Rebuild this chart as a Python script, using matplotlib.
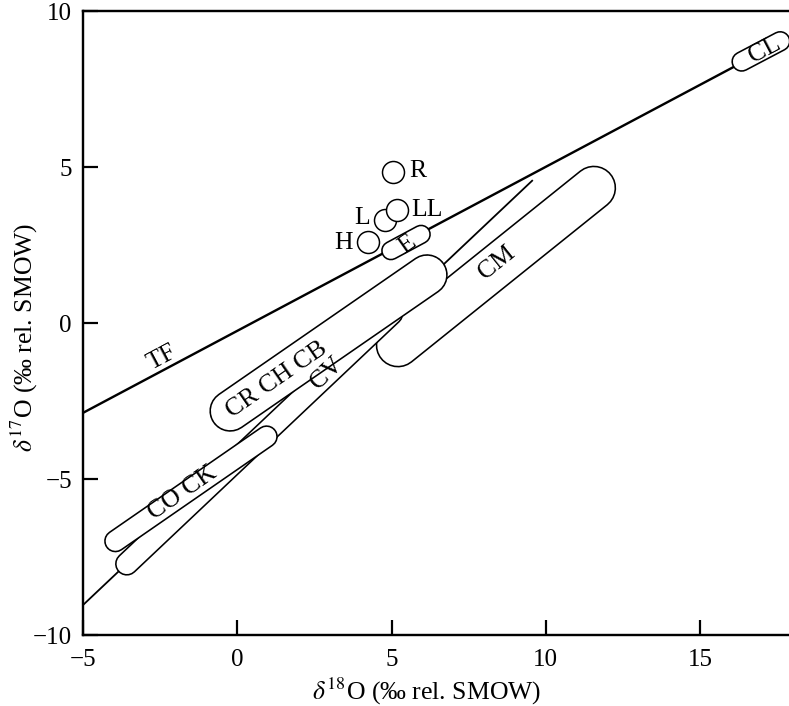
import math
import matplotlib
matplotlib.use("Agg")
import matplotlib.pyplot as plt

plt.rcParams['font.family'] = ['Liberation Serif', 'DejaVu Serif']
plt.rcParams['mathtext.fontset'] = 'stix'
plt.rcParams['axes.unicode_minus'] = True

# ---------------- data ----------------
x_ticks = [-5, 0, 5, 10, 15]
y_ticks = [-10, -5, 0, 5, 10]

# terrestrial fractionation line (TF) and CCAM line
tf_x = [-5.0, 17.6]
tf_y = [-2.88, 9.0]
ccam_x = [-5.0, 9.58]
ccam_y = [-9.04, 4.58]

# capsule-shaped fields: name, start (x,y), end (x,y), label position
field_names = ["CM", "CV", "CO CK", "CR CH CB", "E", "CL"]
field_x0 = [5.21, -3.58, -3.95, -0.23, 4.98, 16.35]
field_y0 = [-0.71, -7.72, -6.99, -2.82, 2.32, 8.38]
field_x1 = [11.56, 5.00, 0.95, 6.15, 5.96, 17.60]
field_y1 = [4.33, 0.30, -3.64, 1.54, 2.84, 9.03]
field_label_x = [8.42, 2.91, -1.76, 1.29, 5.50, 17.11]
field_label_y = [1.92, -1.60, -5.45, -1.83, 2.50, 8.75]

# ordinary chondrite / R groups (circles)
group_names = ["R", "H", "L", "LL"]
group_x = [5.05, 4.24, 4.79, 5.18]
group_y = [4.84, 2.60, 3.30, 3.62]
group_label_x = [5.86, 3.46, 4.04, 6.15]
group_label_y = [4.87, 2.56, 3.37, 3.62]

tf_label = "TF"
tf_label_x, tf_label_y = -2.44, -1.12

# ---------------- styling ----------------
W, H, DPI = 789, 706, 100
field_width_px = [43, 22, 21, 40, 18, 19]
FS_LABEL = 18.5
FS_TICK = 18

fig = plt.figure(figsize=(W / DPI, H / DPI), dpi=DPI)
ax = fig.add_axes([83 / W, 71 / H, 706 / W, 624 / H])
ax.set_xlim(-5, -5 + 706 / 30.85)
ax.set_ylim(-10, 10)

k = 72.0 / DPI  # px -> pt


def px_angle(x0, y0, x1, y1):
    a = ax.transData.transform([(x0, y0), (x1, y1)])
    d = a[1] - a[0]
    return math.degrees(math.atan2(d[1], d[0]))


# lines
ax.plot(tf_x, tf_y, color='black', lw=2.4 * k, solid_capstyle='butt', zorder=1)
ax.plot(ccam_x, ccam_y, color='black', lw=1.8 * k, solid_capstyle='butt', zorder=1)

# capsules
edge = 1.6
for i, name in enumerate(field_names):
    z = 3 + 2 * i
    xs = [field_x0[i], field_x1[i]]
    ys = [field_y0[i], field_y1[i]]
    w = field_width_px[i]
    ax.plot(xs, ys, color='black', lw=(w + edge) * k, solid_capstyle='round', zorder=z)
    ax.plot(xs, ys, color='white', lw=(w - edge) * k, solid_capstyle='round', zorder=z + 0.5)

for i, name in enumerate(field_names):
    ang = px_angle(field_x0[i], field_y0[i], field_x1[i], field_y1[i])
    if name == "E":
        ang = 35
    if name == "CV":
        ang = px_angle(ccam_x[0], ccam_y[0], ccam_x[1], ccam_y[1])
    ax.text(field_label_x[i], field_label_y[i], name, rotation=ang, rotation_mode='anchor',
            ha='center', va='center', fontsize=FS_LABEL, zorder=30)

# TF label
ax.text(tf_label_x, tf_label_y, tf_label, rotation=px_angle(tf_x[0], tf_y[0], tf_x[1], tf_y[1]),
        rotation_mode='anchor', ha='center', va='center', fontsize=FS_LABEL, zorder=30)

# circles
ax.plot(group_x, group_y, 'o', ms=22 * k, mfc='white', mec='black', mew=1.5 * k, zorder=25,
        linestyle='none')
for i, name in enumerate(group_names):
    ax.text(group_label_x[i], group_label_y[i], name, ha='center', va='center',
            fontsize=FS_LABEL, zorder=30)

# axes styling
ax.spines['right'].set_visible(False)
for s in ['top', 'left', 'bottom']:
    ax.spines[s].set_linewidth(2.4 * k)
ax.set_xticks(x_ticks)
ax.set_yticks(y_ticks)
ax.set_xticklabels([f"\u2212{abs(v)}" if v < 0 else str(v) for v in x_ticks])
ax.set_yticklabels([f"\u2212{abs(v)}" if v < 0 else str(v) for v in y_ticks])
ax.tick_params(direction='in', length=15 * k, width=2.2 * k, labelsize=FS_TICK, top=False, right=False)
ax.tick_params(axis='x', pad=10)
ax.tick_params(axis='y', pad=8)

ax.set_xlabel(r'$\delta^{18}$O (‰ rel. SMOW)', fontsize=FS_LABEL)
ax.set_ylabel(r'$\delta^{17}$O (‰ rel. SMOW)', fontsize=FS_LABEL)
ax.xaxis.set_label_coords((427 - 83) / 706, -(676 - 635) / 624)
ax.xaxis.label.set_va('top')
ax.yaxis.set_label_coords(-(83 - 40) / 706, (635 - 337) / 624)

fig.savefig('out.png', dpi=DPI)
